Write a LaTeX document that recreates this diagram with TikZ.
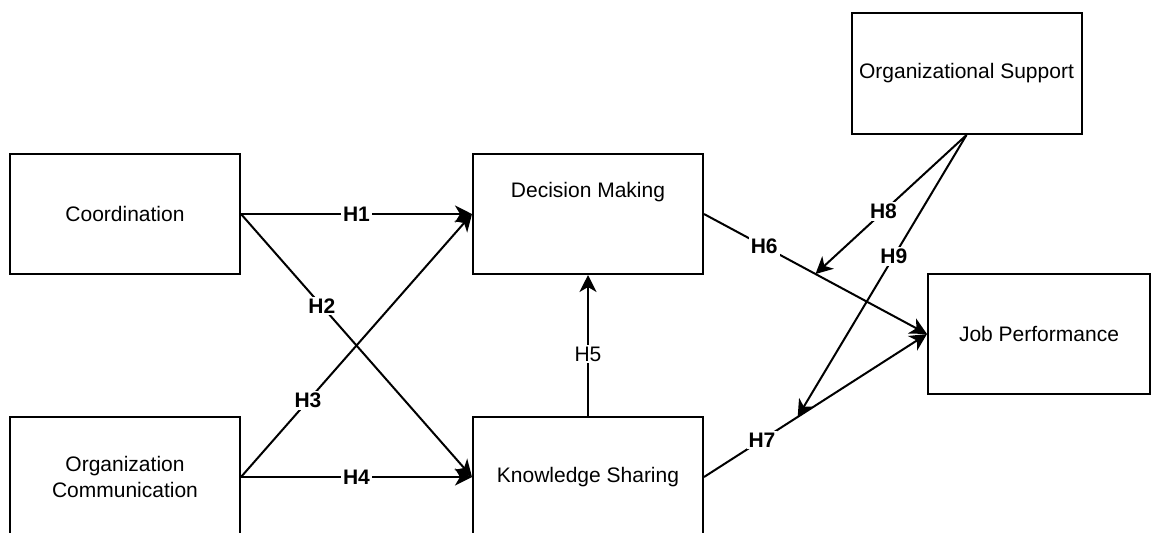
\documentclass[tikz,border=0pt]{standalone}
\usepackage{fontspec}
\setmainfont{Liberation Sans}
\usetikzlibrary{positioning,arrows.meta,calc}

\begin{document}
\begin{tikzpicture}[
    x=0.5pt, y=-0.5pt,
    font=\fontsize{10.5}{12.6}\selectfont,
    box/.style={draw, line width=1pt, align=center, inner sep=3pt,
                minimum width=115pt, minimum height=60pt},
    hyp/.style={font=\fontsize{10.5}{12.6}\selectfont\bfseries,
                fill=white, inner sep=1pt},
    arr/.style={-{Stealth[length=8.5pt, width=8.5pt, inset=2.5pt]}, line width=1pt}
  ]
  \useasboundingbox (0,0) rectangle (1151,532);

  % ===== antecedents (left column) =====
  \node[box] (coord) at (125,214) {Coordination};
  \node[box, below=70.5pt of coord] (orgcom) {Organization\\Communication};

  % ===== mediators =====
  % label sits above the middle of its box
  \node[box, right=115.5pt of coord, text height=8pt, text depth=25pt] (dm) {Decision Making};
  \node[box, right=115.5pt of orgcom] (ks) {Knowledge Sharing};

  % ===== outcome and moderator =====
  \node[box, minimum width=111pt] (jp) at (1039,334) {Job Performance};
  \node[box, minimum height=60.5pt] (os) at (966.5,73.5) {Organizational Support};

  % ===== direct paths =====
  \draw[arr] (coord.east) -- node[hyp] {H1} (dm.west);
  \draw[arr] (coord.east) -- node[hyp, pos=0.35] {H2} (ks.west);
  \draw[arr] (orgcom.east) -- node[hyp, pos=0.29] {H3} (dm.west);
  \draw[arr] (orgcom.east) -- node[hyp] {H4} (ks.west);
  \draw[arr] (ks.north) -- node[hyp, font=\fontsize{10.5}{12.6}\selectfont, pos=0.44] {H5} (dm.south);
  \draw[arr] (dm.east) -- node[hyp, pos=0.27] {H6} (jp.west);
  \draw[arr] (ks.east) -- node[hyp, pos=0.26] {H7} (jp.west);

  % ===== moderation onto H6 and H7 =====
  \coordinate (m6) at ($(dm.east)!0.5!(jp.west)$);
  \coordinate (m7) at ($(ks.east)!0.42!(jp.west)$);
  \draw[arr] (os.south) -- node[hyp, pos=0.55] {H8} (m6);
  \draw[arr] (os.south) -- node[hyp, pos=0.43] {H9} (m7);

\end{tikzpicture}
\end{document}
